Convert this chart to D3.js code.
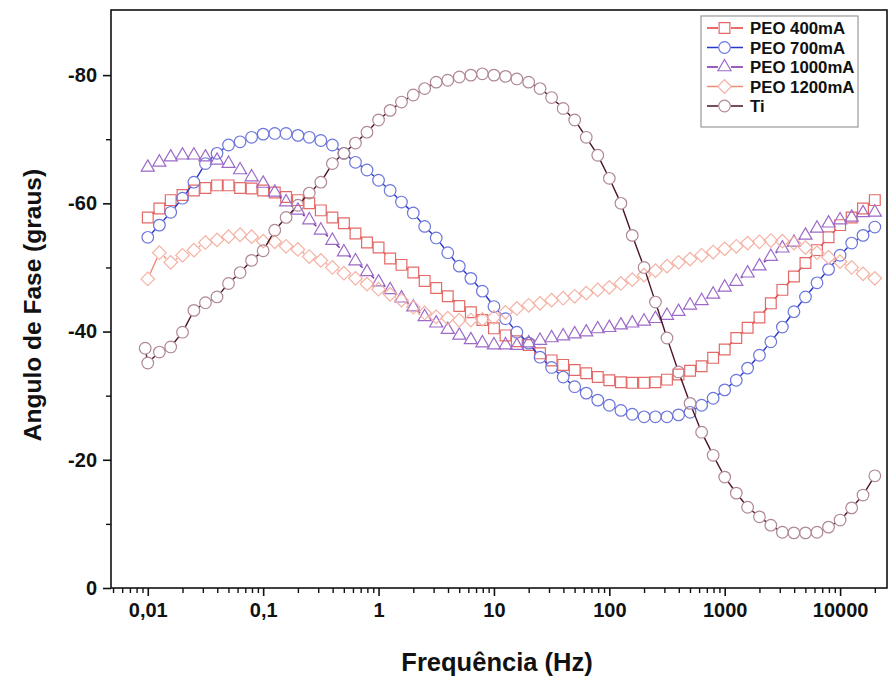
<!DOCTYPE html>
<html>
<head>
<meta charset="utf-8">
<script src="https://cdn.jsdelivr.net/npm/d3@7"></script>
<style>
  body { margin: 0; background: #fff; }
  text { font-family: "Liberation Sans", Arial, sans-serif; font-weight: bold; }
</style>
</head>
<body>
<script>
// frequencies (Hz), ~10 points per decade
const freq = [0.01, 0.0126, 0.0158, 0.02, 0.0251, 0.0316, 0.0398, 0.0501, 0.0631, 0.0794,
  0.1, 0.126, 0.158, 0.2, 0.251, 0.316, 0.398, 0.501, 0.631, 0.794,
  1, 1.26, 1.58, 2, 2.51, 3.16, 3.98, 5.01, 6.31, 7.94,
  10, 12.6, 15.8, 20, 25.1, 31.6, 39.8, 50.1, 63.1, 79.4,
  100, 126, 158, 200, 251, 316, 398, 501, 631, 794,
  1000, 1260, 1580, 2000, 2510, 3160, 3980, 5010, 6310, 7940,
  10000, 12600, 15800, 20000];
const tiFreq = [0.0095].concat(freq);

const peo400 = [-57.8, -59.2, -60.5, -61.3, -62, -62.4, -62.8, -62.8, -62.4, -62.3,
  -62, -61.7, -61, -60.5, -60, -58.9, -57.8, -56.9, -55.3, -53.9,
  -53.1, -51.4, -50.4, -49.2, -47.9, -46.8, -45.5, -44, -43, -41.8,
  -40.5, -39.4, -38.5, -37.9, -36.6, -35.5, -34.8, -34, -33.5, -32.9,
  -32.4, -32.1, -32, -32, -32.1, -32.5, -33.3, -33.9, -34.6, -35.9,
  -37.2, -39, -40.6, -42.2, -44.4, -46.5, -48.6, -50.7, -52.7, -54.7,
  -56.6, -57.8, -59.2, -60.5];
const peo700 = [-54.7, -56.6, -58.6, -60.8, -63.3, -66.2, -67.8, -69.1, -69.6, -70.3,
  -70.8, -70.9, -70.9, -70.6, -70.3, -69.8, -69.1, -67.8, -66.4, -65.2,
  -63.6, -62, -60.2, -58.5, -56.4, -54.6, -52.3, -50.2, -48.3, -46.3,
  -43.9, -42, -39.9, -38.2, -36, -34.4, -32.9, -31.4, -30.4, -29.3,
  -28.5, -27.7, -27.1, -26.7, -26.7, -26.7, -27, -27.4, -28.5, -29.6,
  -30.9, -32.4, -34.3, -36.3, -38.4, -40.7, -43.1, -45.4, -47.6, -49.7,
  -51.9, -53.8, -55, -56.3];
const peo1000 = [-65.6, -66.4, -67.2, -67.5, -67.5, -67.2, -66.7, -66.2, -65.2, -64.1,
  -63.1, -61.7, -60.2, -58.9, -57.4, -55.8, -54.2, -52.4, -51, -49.3,
  -47.7, -46.5, -45.2, -43.8, -42.3, -41.3, -40.3, -39.4, -38.7, -38.2,
  -37.9, -37.9, -37.8, -38.2, -38.6, -39, -39.3, -39.6, -39.9, -40.4,
  -40.6, -41, -41.3, -41.6, -42, -42.5, -43.1, -44.1, -44.8, -45.8,
  -46.9, -47.8, -49.1, -50.2, -51.7, -53, -53.9, -55, -56.1, -56.9,
  -57.4, -57.8, -58.5, -58.6];
const peo1200 = [-48.2, -52.3, -50.8, -51.9, -52.7, -53.9, -54.3, -54.8, -55.1, -54.8,
  -54.1, -54, -53.3, -52.8, -51.7, -51.1, -50, -49.1, -48.3, -47.4,
  -46.6, -45.8, -44.9, -43.8, -42.9, -42.3, -42.1, -41.8, -41.8, -41.9,
  -42.2, -43, -43.6, -44.1, -44.4, -44.9, -45.2, -45.5, -46, -46.5,
  -46.9, -47.5, -48.1, -48.8, -49.5, -50.2, -50.8, -51.3, -51.9, -52.4,
  -52.9, -53.3, -53.8, -54, -54.2, -54.1, -53.8, -53.1, -52.3, -51.6,
  -50.9, -50, -49, -48.3];
const ti = [-37.4, -35.1, -36.8, -37.6, -39.9, -43.3, -44.5, -45.4, -47.5, -49.2, -51.1,
  -52.6, -55.8, -57.8, -59.7, -61.6, -63.3, -66.2, -67.8, -69.4, -71.1,
  -73, -74.5, -75.8, -76.9, -77.9, -78.9, -79.2, -79.7, -80, -80.2,
  -80, -79.8, -79.4, -78.9, -77.9, -76.5, -74.8, -73, -70.3, -67.5,
  -63.9, -60, -55, -50, -44.6, -39, -33.7, -28.8, -24.3, -20.7,
  -17.3, -14.8, -12.6, -11.1, -9.8, -8.7, -8.6, -8.6, -8.7, -9.5,
  -10.6, -12.5, -14.5, -17.5];

const seriesNames = ["PEO 400mA", "PEO 700mA", "PEO 1000mA", "PEO 1200mA", "Ti"];
const xTickValues = [0.01, 0.1, 1, 10, 100, 1000, 10000];
const xTickLabels = ["0,01", "0,1", "1", "10", "100", "1000", "10000"];
const yTickValues = [0, -20, -40, -60, -80];
const yTickLabels = ["0", "-20", "-40", "-60", "-80"];

const series = [
  {name: seriesNames[0], x: freq, y: peo400, line: "#e23a36", mark: "#e46a68", sym: "square"},
  {name: seriesNames[1], x: freq, y: peo700, line: "#2a36c8", mark: "#6c76dc", sym: "circle"},
  {name: seriesNames[2], x: freq, y: peo1000, line: "#7a2aa8", mark: "#9c6ac8", sym: "triangle"},
  {name: seriesNames[3], x: freq, y: peo1200, line: "#f08a78", mark: "#f4b2a4", sym: "diamond"},
  {name: seriesNames[4], x: tiFreq, y: ti, line: "#4a1426", mark: "#b08894", sym: "circle"}
];

const W = 891, H = 683;
const plotLeft = 111, plotRight = 887, plotTop = 10, plotBottom = 588;

const x = d3.scaleLog().domain([0.0048, 25500]).range([plotLeft, plotRight]);
const y = d3.scaleLinear().domain([0, -90]).range([plotBottom, plotTop + 1]);

const svg = d3.select("body").append("svg")
  .attr("width", W).attr("height", H);
svg.append("rect").attr("width", W).attr("height", H).attr("fill", "#fff");

function symbolPath(sym) {
  if (sym == "square") return d3.symbol(d3.symbolSquare, 116)();
  if (sym == "circle") return d3.symbol(d3.symbolCircle, 106)();
  if (sym == "triangle") return d3.symbol(d3.symbolTriangle, 74)();
  return d3.symbol(d3.symbolSquare, 92)();
}

// line segments with a gap around each symbol (Origin style)
function gappedPath(pts, gap) {
  const p = d3.path();
  for (let i = 0; i < pts.length - 1; i++) {
    const a = pts[i], b = pts[i + 1];
    const dx = b[0] - a[0], dy = b[1] - a[1];
    const d = Math.sqrt(dx * dx + dy * dy);
    if (d <= 2 * gap) continue;
    p.moveTo(a[0] + dx * gap / d, a[1] + dy * gap / d);
    p.lineTo(b[0] - dx * gap / d, b[1] - dy * gap / d);
  }
  return p.toString();
}

const plot = svg.append("g");
series.forEach(s => {
  const pts = s.x.map((f, i) => [x(f), y(s.y[i])]);
  plot.append("path")
    .attr("d", gappedPath(pts, 6))
    .attr("fill", "none")
    .attr("stroke", s.line)
    .attr("stroke-width", 1.4);
  plot.selectAll(null)
    .data(pts)
    .enter()
    .append("path")
    .attr("d", symbolPath(s.sym))
    .attr("transform", d => "translate(" + d[0] + "," + d[1] + ")" + (s.sym == "diamond" ? " rotate(45)" : ""))
    .attr("fill", "none")
    .attr("stroke", s.mark)
    .attr("stroke-width", 1.2);
});

// frame
svg.append("rect")
  .attr("x", plotLeft).attr("y", plotTop)
  .attr("width", plotRight - plotLeft).attr("height", plotBottom - plotTop)
  .attr("fill", "none").attr("stroke", "#111").attr("stroke-width", 1.6);

// x axis
let xMinor = [];
[0.001, 0.01, 0.1, 1, 10, 100, 1000, 10000].forEach(dec => {
  for (let m = 2; m <= 9; m++) {
    const v = dec * m;
    if (v >= x.domain()[0] && v <= x.domain()[1]) xMinor.push(v);
  }
});
svg.append("g")
  .attr("transform", "translate(0," + plotBottom + ")")
  .call(d3.axisBottom(x).tickValues(xMinor).tickSize(5).tickFormat(""))
  .call(g => g.select(".domain").remove())
  .selectAll("line").attr("stroke", "#111").attr("stroke-width", 1.4);
const xAxis = svg.append("g")
  .attr("transform", "translate(0," + plotBottom + ")")
  .call(d3.axisBottom(x).tickValues(xTickValues).tickSize(8).tickPadding(7)
    .tickFormat((d, i) => xTickLabels[i]));
xAxis.select(".domain").remove();
xAxis.selectAll("line").attr("stroke", "#111").attr("stroke-width", 1.6);
xAxis.selectAll("text").attr("font-size", 20).attr("fill", "#111");

// y axis
svg.append("g")
  .attr("transform", "translate(" + plotLeft + ",0)")
  .call(d3.axisLeft(y).tickValues([-10, -30, -50, -70]).tickSize(5).tickFormat(""))
  .call(g => g.select(".domain").remove())
  .selectAll("line").attr("stroke", "#111").attr("stroke-width", 1.4);
const yAxis = svg.append("g")
  .attr("transform", "translate(" + plotLeft + ",0)")
  .call(d3.axisLeft(y).tickValues(yTickValues).tickSize(8).tickPadding(6)
    .tickFormat((d, i) => yTickLabels[i]));
yAxis.select(".domain").remove();
yAxis.selectAll("line").attr("stroke", "#111").attr("stroke-width", 1.6);
yAxis.selectAll("text").attr("font-size", 20).attr("fill", "#111");

// axis titles
svg.append("text")
  .attr("x", 497).attr("y", 671)
  .attr("text-anchor", "middle")
  .attr("font-size", 25.5)
  .attr("fill", "#111")
  .text("Frequência (Hz)");
svg.append("text")
  .attr("transform", "translate(41," + ((plotTop + plotBottom) / 2 + 6) + ") rotate(-90)")
  .attr("text-anchor", "middle")
  .attr("font-size", 24.5)
  .attr("fill", "#111")
  .text("Angulo de Fase (graus)");

// legend
const legend = svg.append("g").attr("transform", "translate(701,16)");
legend.append("rect")
  .attr("width", 157).attr("height", 111)
  .attr("fill", "#fff").attr("stroke", "#999").attr("stroke-width", 1.2);
series.forEach((s, i) => {
  const ly = 12 + i * 19.5;
  const row = legend.append("g").attr("transform", "translate(0," + ly + ")");
  row.append("path")
    .attr("d", "M6,0H17M30,0H42")
    .attr("stroke", s.line).attr("stroke-width", 1.5);
  row.append("path")
    .attr("d", symbolPath(s.sym))
    .attr("transform", "translate(23.5,0)" + (s.sym == "diamond" ? " rotate(45)" : ""))
    .attr("fill", "none").attr("stroke", s.mark).attr("stroke-width", 1.2);
  row.append("text")
    .attr("x", 49).attr("y", 6)
    .attr("font-size", 16.8)
    .attr("fill", "#111")
    .text(s.name);
});
</script>
</body>
</html>
